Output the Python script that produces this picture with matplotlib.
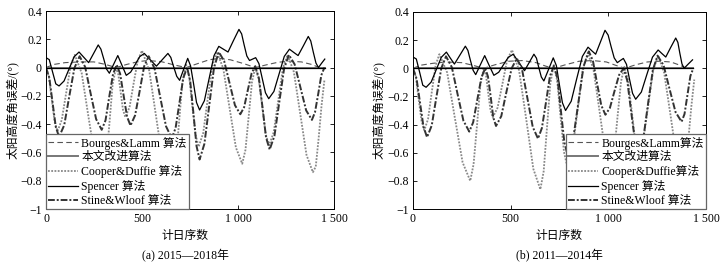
import numpy as np
import matplotlib
matplotlib.use('Agg')
import matplotlib.pyplot as plt

plt.rcParams['font.family'] = ['Liberation Serif', 'Noto Sans CJK SC']
plt.rcParams['axes.unicode_minus'] = True

# ---- (a) 2015-2018 ----
a_bl_day = [0, 40, 100, 175, 250, 310, 365, 420, 480, 530, 600, 670, 730, 790, 850, 900, 960, 1030, 1090, 1150, 1210, 1270, 1330, 1390, 1420, 1450]
a_bl_val = [0.0, 0.022, 0.035, 0.04, 0.04, 0.022, 0.0, 0.022, 0.042, 0.05, 0.042, 0.018, 0.0, 0.028, 0.055, 0.065, 0.055, 0.028, 0.0, 0.02, 0.038, 0.045, 0.04, 0.02, 0.0, 0.0]

a_sp_day = [0, 17, 34, 51, 68, 94, 120, 146, 172, 197, 222, 247, 272, 286, 301, 315, 330, 352, 374, 396, 418, 441, 465, 488,
            512, 543, 575, 605, 635, 650, 665, 681, 696, 717, 738, 753, 769, 784, 800, 825, 850, 875, 900, 924, 948, 976,
            1005, 1019, 1032, 1046, 1060, 1076, 1092, 1109, 1126, 1143, 1160, 1187, 1214, 1241, 1268, 1290, 1313, 1340,
            1366, 1379, 1392, 1406, 1419, 1435, 1452]
a_sp_val = [0.07, 0.056, -0.03, -0.115, -0.13, -0.095, -0.01, 0.075, 0.11, 0.0725, 0.035, 0.0975, 0.16, 0.13, 0.06, -0.01,
            -0.04, 0.0225, 0.085, 0.015, -0.055, -0.032, 0.0225, 0.077, 0.10, 0.055, 0.01, 0.055, 0.10, 0.072, 0.005, -0.062,
            -0.09, -0.0125, 0.065, 0.012, -0.1175, -0.247, -0.30, -0.234, -0.075, 0.084, 0.15, 0.13, 0.11, 0.19, 0.27, 0.238,
            0.16, 0.082, 0.05, 0.06, 0.07, 0.028, -0.075, -0.178, -0.22, -0.169, -0.045, 0.079, 0.13, 0.1075, 0.085, 0.1525,
            0.22, 0.188, 0.11, 0.032, 0.0, 0.03, 0.06]

a_sw_day = [0, 17, 34, 51, 68, 95, 121, 148, 175, 204, 232, 261, 290, 310, 329, 349, 368, 386, 404, 422, 440, 464, 488, 511,
            535, 565, 595, 625, 655, 675, 695, 715, 735, 751, 768, 784, 800, 825, 850, 875, 900, 928, 956, 984, 1012, 1032,
            1051, 1071, 1090, 1109, 1128, 1146, 1165, 1190, 1215, 1240, 1265, 1295, 1325, 1355, 1385, 1401, 1418, 1434, 1450]
a_sw_val = [0.0, -0.07, -0.245, -0.42, -0.49, -0.407, -0.205, -0.003, 0.08, 0.004, -0.18, -0.364, -0.44, -0.373, -0.21,
            -0.047, 0.02, -0.043, -0.195, -0.347, -0.41, -0.338, -0.165, 0.008, 0.08, -0.005, -0.21, -0.415, -0.5, -0.427,
            -0.25, -0.073, 0.0, -0.095, -0.325, -0.555, -0.65, -0.539, -0.27, -0.001, 0.11, 0.046, -0.11, -0.266, -0.33,
            -0.28, -0.16, -0.04, 0.01, -0.076, -0.285, -0.494, -0.58, -0.482, -0.245, -0.008, 0.09, 0.023, -0.14, -0.303,
            -0.37, -0.316, -0.185, -0.054, 0.0]

a_cd_day = [0, 15, 30, 45, 60, 82, 105, 128, 150, 186, 222, 259, 295, 312, 330, 347, 365, 377, 389, 401, 413, 435, 456, 478,
            500, 538, 576, 614, 652, 671, 691, 710, 730, 746, 762, 779, 795, 819, 842, 866, 890, 923, 956, 989, 1022, 1039,
            1056, 1073, 1090, 1108, 1126, 1144, 1162, 1186, 1210, 1234, 1258, 1291, 1324, 1357, 1390, 1405, 1420, 1435, 1450]
a_cd_val = [0.0, -0.066, -0.225, -0.384, -0.45, -0.371, -0.18, 0.011, 0.09, -0.04, -0.355, -0.67, -0.8, -0.683, -0.4,
            -0.117, 0.0, -0.051, -0.175, -0.299, -0.35, -0.281, -0.115, 0.051, 0.12, -0.023, -0.37, -0.717, -0.86, -0.732,
            -0.42, -0.108, 0.02, -0.065, -0.27, -0.475, -0.56, -0.462, -0.225, 0.012, 0.11, -0.005, -0.285, -0.565, -0.68,
            -0.581, -0.34, -0.099, 0.0, -0.08, -0.275, -0.47, -0.55, -0.457, -0.23, -0.003, 0.09, -0.031, -0.325, -0.619,
            -0.74, -0.7, -0.5, -0.27, -0.09]

# ---- (b) 2011-2014 ----
b_bl_day = [0, 40, 100, 170, 250, 310, 362, 420, 490, 560, 630, 680, 720, 780, 850, 920, 990, 1040, 1085, 1140, 1200, 1260, 1320, 1370, 1400, 1430]
b_bl_val = [0.0, 0.022, 0.035, 0.045, 0.04, 0.02, 0.0, 0.025, 0.05, 0.055, 0.04, 0.015, 0.0, 0.025, 0.05, 0.055, 0.045, 0.02, 0.0, 0.025, 0.045, 0.05, 0.045, 0.02, 0.0, 0.0]

b_sp_day = [0, 17, 34, 50, 67, 93, 119, 145, 171, 191, 212, 240, 268, 281, 294, 308, 321, 344, 367, 390, 414, 439, 463, 488,
            513, 542, 571, 595, 619, 632, 644, 657, 670, 694, 718, 734, 749, 765, 781, 810, 838, 867, 896, 915, 935, 959,
            983, 999, 1014, 1030, 1046, 1061, 1077, 1093, 1108, 1124, 1140, 1169, 1197, 1226, 1255, 1274, 1294, 1319,
            1345, 1356, 1366, 1377, 1388, 1409, 1431]
b_sp_val = [0.08, 0.066, -0.028, -0.12, -0.135, -0.098, -0.01, 0.078, 0.115, 0.0725, 0.03, 0.0935, 0.157, 0.127, 0.056,
            -0.015, -0.045, 0.0225, 0.09, 0.02, -0.05, -0.028, 0.025, 0.078, 0.10, 0.0415, -0.017, 0.0415, 0.10, 0.072,
            0.005, -0.062, -0.09, -0.008, 0.074, 0.019, -0.113, -0.245, -0.30, -0.234, -0.075, 0.084, 0.15, 0.125, 0.10,
            0.185, 0.27, 0.236, 0.155, 0.074, 0.04, 0.055, 0.07, 0.028, -0.075, -0.178, -0.22, -0.169, -0.045, 0.079, 0.13,
            0.105, 0.08, 0.1475, 0.215, 0.184, 0.1075, 0.031, 0.0, 0.03, 0.06]

b_sw_day = [0, 18, 36, 54, 72, 96, 120, 145, 169, 199, 228, 258, 288, 308, 329, 350, 370, 384, 398, 411, 425, 452, 478, 505,
            532, 559, 586, 613, 640, 660, 681, 701, 722, 740, 757, 775, 792, 819, 846, 873, 900, 921, 942, 964, 985, 1008,
            1031, 1055, 1078, 1097, 1116, 1136, 1155, 1179, 1203, 1228, 1252, 1283, 1313, 1344, 1375, 1390, 1405, 1420, 1435]
b_sw_val = [0.0, -0.072, -0.245, -0.418, -0.49, -0.406, -0.2025, 0.001, 0.085, 0.007, -0.1825, -0.372, -0.45, -0.384, -0.225,
            -0.066, 0.0, -0.06, -0.205, -0.35, -0.41, -0.34, -0.17, 0.0, 0.07, -0.013, -0.215, -0.417, -0.5, -0.424, -0.24,
            -0.056, 0.02, -0.073, -0.3, -0.527, -0.62, -0.512, -0.25, 0.012, 0.12, 0.054, -0.105, -0.264, -0.33, -0.282,
            -0.165, -0.048, 0.0, -0.088, -0.3, -0.512, -0.6, -0.5, -0.255, -0.011, 0.09, 0.021, -0.145, -0.311, -0.38,
            -0.325, -0.19, -0.055, 0.0]

b_cd_day = [0, 15, 29, 44, 58, 77, 96, 116, 135, 175, 214, 254, 293, 310, 328, 345, 362, 374, 385, 397, 408, 433, 458, 482,
            507, 543, 580, 616, 652, 669, 686, 703, 720, 738, 755, 773, 790, 816, 843, 869, 895, 924, 954, 983, 1012, 1030,
            1047, 1065, 1082, 1100, 1119, 1137, 1155, 1180, 1205, 1230, 1255, 1286, 1318, 1349, 1380, 1395, 1410, 1425, 1440]
b_cd_val = [0.0, -0.064, -0.22, -0.376, -0.44, -0.361, -0.17, 0.021, 0.1, -0.031, -0.35, -0.669, -0.8, -0.683, -0.4, -0.117,
            0.0, -0.051, -0.175, -0.299, -0.35, -0.28, -0.11, 0.06, 0.13, -0.015, -0.365, -0.715, -0.86, -0.732, -0.42,
            -0.108, 0.02, -0.085, -0.34, -0.595, -0.7, -0.582, -0.295, -0.008, 0.11, -0.008, -0.295, -0.582, -0.7, -0.596,
            -0.345, -0.094, 0.01, -0.079, -0.295, -0.511, -0.6, -0.5, -0.255, -0.011, 0.09, -0.033, -0.33, -0.627, -0.75,
            -0.71, -0.5, -0.27, -0.08]

improved_a = [0, 1452]
improved_b = [0, 1435]

labels_a = ['Bourges&Lamm 算法', '本文改进算法', 'Cooper&Duffie 算法', 'Spencer 算法', 'Stine&Wloof 算法']
labels_b = ['Bourges&Lamm算法', '本文改进算法', 'Cooper&Duffie算法', 'Spencer 算法', 'Stine&Wloof 算法']

xticks = [0, 500, 1000, 1500]
xticklabels = ['0', '500', '1 000', '1 500']
yticks = [0.4, 0.2, 0, -0.2, -0.4, -0.6, -0.8, -1]
yticklabels = ['0.4', '0.2', '0', '\u22120.2', '\u22120.4', '\u22120.6', '\u22120.8', '\u22121']

W, H = 728, 267
fig = plt.figure(figsize=(W / 100, H / 100), dpi=100)


def panel(rect, bl, sp, sw, cd, imp, labels, loc, title, xl_x, yl_x):
    ax = fig.add_axes([rect[0] / W, 1 - rect[3] / H, (rect[2] - rect[0]) / W, (rect[3] - rect[1]) / H])
    h1, = ax.plot(bl[0], bl[1], color='#555555', lw=0.8, ls=(0, (5, 3)))
    h2, = ax.plot(imp, [0, 0], color='#777777', lw=1.4)
    h3, = ax.plot(cd[0], cd[1], color='#888888', lw=1.3, ls=(0, (1, 0.8)))
    h4, = ax.plot(sp[0], sp[1], color='black', lw=0.9)
    h5, = ax.plot(sw[0], sw[1], color='#333333', lw=1.4, ls=(0, (3.5, 1, 1, 1)))
    ax.plot(imp, [0, 0], color='black', lw=0.9)
    ax.set_xlim(0, 1500)
    ax.set_ylim(-1, 0.4)
    ax.set_xticks(xticks)
    ax.set_xticklabels(xticklabels)
    ax.set_yticks(yticks)
    ax.set_yticklabels(yticklabels)
    ax.tick_params(direction='in', top=True, right=True, labelsize=8.5, length=3, width=0.6, pad=3)
    for s in ax.spines.values():
        s.set_linewidth(0.7)
    leg = ax.legend([h1, h2, h3, h4, h5], labels, loc=loc, borderaxespad=0, fontsize=8.5,
                    handlelength=2.5, handletextpad=0.3, labelspacing=0.15, borderpad=0.2,
                    fancybox=False, framealpha=1, edgecolor='#666666')
    leg.get_frame().set_linewidth(0.9)
    fig.text(xl_x / W, 1 - 236 / H, '计日序数', ha='center', va='center', fontsize=8.5)
    fig.text(xl_x / W, 1 - 256 / H, title, ha='center', va='center', fontsize=8.5)
    fig.text(yl_x / W, 1 - 110 / H, '太阳高度角误差/(°)', ha='center', va='center', rotation=90, fontsize=8.5)
    return ax


panel((46, 11, 334, 209), (a_bl_day, a_bl_val), (a_sp_day, a_sp_val), (a_sw_day, a_sw_val),
      (a_cd_day, a_cd_val), improved_a, labels_a, 'lower left', '(a) 2015\u20142018年', 185, 12)
panel((413, 12, 706, 209), (b_bl_day, b_bl_val), (b_sp_day, b_sp_val), (b_sw_day, b_sw_val),
      (b_cd_day, b_cd_val), improved_b, labels_b, 'lower right', '(b) 2011\u20142014年', 559, 378)

fig.savefig('out.png', dpi=100)
